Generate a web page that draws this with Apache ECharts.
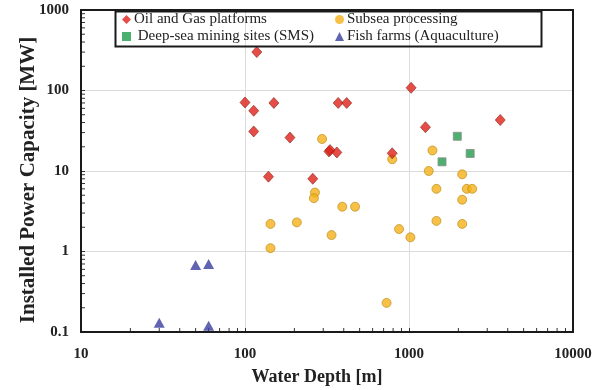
<!DOCTYPE html>
<html>
<head>
<meta charset="utf-8">
<script src="https://cdn.jsdelivr.net/npm/echarts@6/dist/echarts.min.js"></script>
<style>html,body{margin:0;padding:0;background:#fff}#c{width:613px;height:390px}</style>
</head>
<body>
<div id="c"></div>
<script>
// ---- data ----
const seriesNames = ['Oil and Gas platforms', 'Subsea processing', 'Deep-sea mining sites (SMS)', 'Fish farms (Aquaculture)'];
const oilDepth = [118, 100, 113, 150, 113, 188, 325, 330, 363, 370, 417, 139, 259, 1030, 1260, 3600, 790];
const oilCap   = [300, 71, 56, 70, 31, 26, 17.5, 18.2, 17, 70, 70, 8.5, 8, 108, 35, 43, 16.6];
const subDepth = [295, 267, 263, 143, 207, 337, 143, 392, 469, 870, 1020, 730, 1470, 2250, 2430, 2110, 1470, 2110, 1390, 790, 1320, 2110];
const subCap   = [25, 5.4, 4.6, 2.2, 2.3, 1.6, 1.1, 3.6, 3.6, 1.9, 1.5, 0.23, 6, 6, 6, 4.4, 2.4, 2.2, 18, 14, 10, 9.1];
const minDepth = [1970, 2360, 1590];
const minCap   = [27, 16.5, 13];
const fishDepth = [30, 50, 60, 60];
const fishCap   = [0.13, 0.68, 0.70, 0.12];
const xMinorTicks = [20,30,40,50,60,70,80,90,200,300,400,500,600,700,800,900,2000,3000,4000,5000,6000,7000,8000,9000];
const yMinorTicks = [0.2,0.3,0.4,0.5,0.6,0.7,0.8,0.9,2,3,4,5,6,7,8,9,20,30,40,50,60,70,80,90,200,300,400,500,600,700,800,900];
const xRange = [10, 10000];
const yRange = [0.1, 1000];

const zip = (a, b) => a.map((v, i) => [v, b[i]]);
const serif = '"Liberation Serif", "Times New Roman", serif';
const fmt = v => String(Number(Number(v).toPrecision(6)));
const labelFont = { fontFamily: serif, fontWeight: 'bold', fontSize: 15, color: '#222' };

const chart = echarts.init(document.getElementById('c'));
chart.setOption({
  animation: false,
  backgroundColor: '#fff',
  grid: { left: 81, right: 40, top: 10, bottom: 58, outerBoundsMode: 'none', containLabel: false,
          show: true, borderColor: '#1a1a1a', borderWidth: 2, backgroundColor: 'transparent', z: 5 },
  xAxis: {
    type: 'log', logBase: 10, min: xRange[0], max: xRange[1],
    name: 'Water Depth [m]', nameLocation: 'middle', nameGap: 36, nameMoveOverlap: false,
    nameTextStyle: { fontFamily: serif, fontWeight: 'bold', fontSize: 18, color: '#222', padding: [0, 20, 0, 0] },
    axisLine: { lineStyle: { color: '#1a1a1a', width: 2 } },
    axisTick: { inside: true, length: 4, lineStyle: { color: '#333' } },
    axisLabel: Object.assign({ margin: 15, formatter: fmt, alignMinLabel: 'center', alignMaxLabel: 'center' }, labelFont),
    splitLine: { show: true, showMinLine: false, showMaxLine: false, lineStyle: { color: '#dcdcdc', width: 1 } },
    minorTick: { show: false }
  },
  yAxis: {
    type: 'log', logBase: 10, min: yRange[0], max: yRange[1],
    name: 'Installed Power Capacity [MW]', nameLocation: 'middle', nameGap: 42, nameRotate: 90, nameMoveOverlap: false,
    nameTextStyle: { fontFamily: serif, fontWeight: 'bold', fontSize: 21, color: '#222', padding: [0, 18, 0, 0] },
    axisLine: { lineStyle: { color: '#1a1a1a', width: 2 } },
    axisTick: { inside: true, length: 4, lineStyle: { color: '#333' } },
    axisLabel: Object.assign({ margin: 12, formatter: fmt,
      verticalAlignMinLabel: 'middle', verticalAlignMaxLabel: 'middle' }, labelFont),
    splitLine: { show: true, showMinLine: false, showMaxLine: false, lineStyle: { color: '#dcdcdc', width: 1 } }
  },
  legend: [
    {
      left: 117, top: 7, orient: 'vertical', itemGap: 2, itemWidth: 9, itemHeight: 9,
      data: [seriesNames[0], seriesNames[2]],
      itemStyle: { borderWidth: 0 },
      textStyle: { fontFamily: serif, fontSize: 15, color: '#222', padding: [0, 0, 0, -2] },
      formatter: n => n === seriesNames[2] ? ' ' + n : n
    },
    {
      left: 330, top: 7, orient: 'vertical', itemGap: 2, itemWidth: 9, itemHeight: 9,
      data: [seriesNames[1], seriesNames[3]],
      itemStyle: { borderWidth: 0 },
      textStyle: { fontFamily: serif, fontSize: 15, color: '#222', padding: [0, 0, 0, -2] }
    }
  ],
  graphic: [{
    type: 'rect', left: 113, top: 9, z: 100, silent: true,
    shape: { width: 426, height: 35 },
    style: { fill: 'none', stroke: '#1a1a1a', lineWidth: 2 }
  }],
  series: [
    {
      name: seriesNames[0], type: 'scatter', symbol: 'diamond', symbolSize: [10, 11], z: 3,
      itemStyle: { color: '#e0201a', borderColor: '#8a2a18', borderWidth: 0.8 },
      data: zip(oilDepth, oilCap)
    },
    {
      name: seriesNames[1], type: 'scatter', symbol: 'circle', symbolSize: 9, z: 2,
      itemStyle: { color: '#f4b218', borderColor: '#b8860f', borderWidth: 0.8 },
      data: zip(subDepth, subCap)
    },
    {
      name: seriesNames[2], type: 'scatter', symbol: 'rect', symbolSize: 8, z: 2,
      itemStyle: { color: '#1f9e4b', borderColor: '#8c8c8c', borderWidth: 1 },
      data: zip(minDepth, minCap)
    },
    {
      name: seriesNames[3], type: 'scatter', symbol: 'triangle', symbolSize: [11, 10], z: 2,
      itemStyle: { color: '#3a3d9c' },
      data: zip(fishDepth, fishCap)
    },
    {
      type: 'custom', silent: true, z: 1,
      data: xMinorTicks.map(v => [v, yRange[0]]),
      renderItem: (params, api) => {
        const p = api.coord([api.value(0), yRange[0]]);
        return { type: 'line', shape: { x1: p[0], y1: p[1], x2: p[0], y2: p[1] - 4 }, style: { stroke: '#333', lineWidth: 1 } };
      }
    },
    {
      type: 'custom', silent: true, z: 1,
      data: yMinorTicks.map(v => [xRange[0], v]),
      renderItem: (params, api) => {
        const p = api.coord([xRange[0], api.value(1)]);
        return { type: 'line', shape: { x1: p[0], y1: p[1], x2: p[0] + 4, y2: p[1] }, style: { stroke: '#333', lineWidth: 1 } };
      }
    }
  ]
});
</script>
</body>
</html>
